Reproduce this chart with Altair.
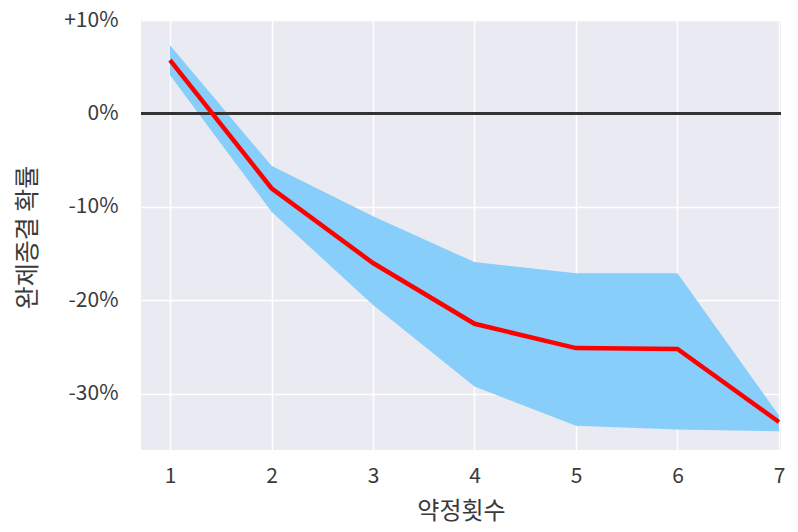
import altair as alt
import pandas as pd

counts = [1, 2, 3, 4, 5, 6, 7]
mean_pct = [5.7, -8.0, -16.0, -22.5, -25.1, -25.2, -33.0]
upper_pct = [7.3, -5.6, -11.0, -15.9, -17.1, -17.1, -32.3]
lower_pct = [4.1, -10.5, -20.5, -29.2, -33.4, -33.8, -34.0]
y_ticks = [10, 0, -10, -20, -30]

df = pd.DataFrame({"n": counts, "m": mean_pct, "hi": upper_pct, "lo": lower_pct})
zero = pd.DataFrame({"z": [0]})

FONT = "Noto Sans CJK KR"
xs = alt.Scale(domain=[0.714, 7.02], nice=False, zero=False)
ys = alt.Scale(domain=[-36, 10], nice=False, zero=False)

label_expr = "(datum.value > 0 ? '+' : '') + datum.value + '%'"

band = alt.Chart(df).mark_area(color="#87CEFA", opacity=1).encode(
    x=alt.X("n:Q", scale=xs,
            axis=alt.Axis(title="약정횟수", values=counts, format="d", grid=True,
                          gridColor="white", gridWidth=1.5, ticks=False, domain=False,
                          labelFontSize=21, titleFontSize=24, labelPadding=15,
                          titlePadding=13, labelColor="#3a3a3a", titleColor="#3a3a3a",
                          labelFont=FONT, titleFont=FONT, titleFontWeight="normal")),
    y=alt.Y("lo:Q", scale=ys,
            axis=alt.Axis(title="완제종결 확률", values=y_ticks, labelExpr=label_expr,
                          grid=True, gridColor="white", gridWidth=1.5, ticks=False,
                          domain=False, labelFontSize=21, titleFontSize=25,
                          labelPadding=23, labelColor="#3a3a3a",
                          titleColor="#3a3a3a", labelFont=FONT, titleFont=FONT,
                          titleFontWeight="normal", titleAngle=-90, titleX=-114,
                          titleY=217, titleAlign="center", titleBaseline="middle")),
    y2="hi:Q",
)

rule = alt.Chart(zero).mark_rule(color="#333333", strokeWidth=3).encode(
    y=alt.Y("z:Q", scale=ys)
)

line = alt.Chart(df).mark_line(color="#FF0000", strokeWidth=4.5).encode(
    x=alt.X("n:Q", scale=xs),
    y=alt.Y("m:Q", scale=ys),
)

chart = alt.layer(band, rule, line).properties(
    width=640, height=430,
    autosize=alt.AutoSizeParams(type="none"),
    padding={"left": 133, "top": 12, "right": 8, "bottom": 74},
    background="white",
).configure_view(fill="#EAEAF2", strokeWidth=0)

chart.save("out.html", embed_options={"renderer": "svg", "actions": False})
